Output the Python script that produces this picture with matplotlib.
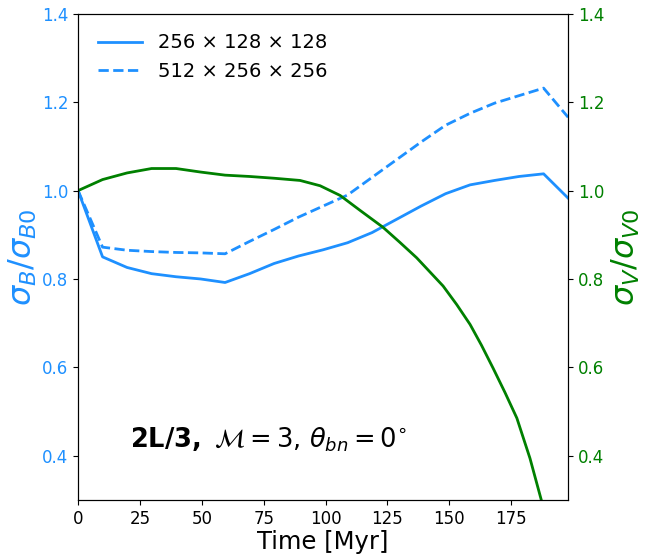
import numpy as np
import matplotlib
matplotlib.use("Agg")
import matplotlib.pyplot as plt

# data
time = [0, 9.9, 19.8, 29.7, 39.6, 49.5, 59.4, 69.3, 79.2, 89.1, 99.0,
        108.9, 118.8, 128.7, 138.6, 148.5, 158.4, 168.3, 178.2, 188.1, 198.0]
sigB_low = [1.0, 0.850, 0.826, 0.812, 0.805, 0.800, 0.792, 0.812, 0.835, 0.852, 0.866,
            0.882, 0.905, 0.935, 0.965, 0.993, 1.013, 1.023, 1.032, 1.038, 0.983]
sigB_high = [1.0, 0.872, 0.865, 0.862, 0.860, 0.859, 0.857, 0.885, 0.912, 0.940, 0.965,
             0.990, 1.030, 1.070, 1.110, 1.148, 1.175, 1.198, 1.215, 1.232, 1.166]

time_v = [0, 9.9, 19.8, 29.7, 39.6, 49.5, 59.4, 69.3, 79.2, 89.7, 97.8, 105.9, 114.0,
          123.2, 130.0, 136.8, 147.5, 153.0, 158.4, 163.0, 167.7, 172.5, 177.3,
          182.6, 187.4, 192.0]
sigV = [1.0, 1.025, 1.040, 1.050, 1.050, 1.042, 1.035, 1.032, 1.028, 1.023, 1.011, 0.989,
        0.955, 0.917, 0.883, 0.848, 0.784, 0.742, 0.697, 0.650, 0.598, 0.543, 0.485,
        0.394, 0.295, 0.190]

labels = ['256 × 128 × 128', '512 × 256 × 256']

blue = '#1E90FF'
green = 'green'

fig = plt.figure(figsize=(6.56, 5.56), dpi=100)
ax = fig.add_axes([0.119, 0.101, 0.747, 0.874])
ax2 = ax.twinx()

ax.plot(time, sigB_low, color=blue, lw=2, label=labels[0])
ax.plot(time, sigB_high, color=blue, lw=2, ls='--', label=labels[1])
ax2.plot(time_v, sigV, color=green, lw=2)

ax.set_xlim(0, 198)
ax.set_ylim(0.3, 1.4)
ax2.set_ylim(0.3, 1.4)
ax.set_xticks([0, 25, 50, 75, 100, 125, 150, 175])
ax.set_yticks([0.4, 0.6, 0.8, 1.0, 1.2, 1.4])
ax2.set_yticks([0.4, 0.6, 0.8, 1.0, 1.2, 1.4])

ax.tick_params(axis='x', labelsize=12)
ax.tick_params(axis='y', labelsize=12, labelcolor=blue)
ax2.tick_params(axis='y', labelsize=12, labelcolor=green)

ax.set_xlabel('Time [Myr]', fontsize=17.5, labelpad=2)
ax.set_ylabel(r'$\sigma_B/\sigma_{B0}$', fontsize=23, color=blue, labelpad=2)
ax2.set_ylabel(r'$\sigma_V/\sigma_{V0}$', fontsize=23, color=green, labelpad=4)

ax.legend(loc='upper left', fontsize=14, frameon=False, handlelength=2.3,
          borderaxespad=0.6)
ax.text(0.105, 0.123, r'$\mathbf{2L/3,}$ $\mathcal{M}=3$, $\theta_{bn}=0^{\circ}$',
        transform=ax.transAxes, fontsize=18.5, va='center')

fig.savefig('out.png', dpi=100)
